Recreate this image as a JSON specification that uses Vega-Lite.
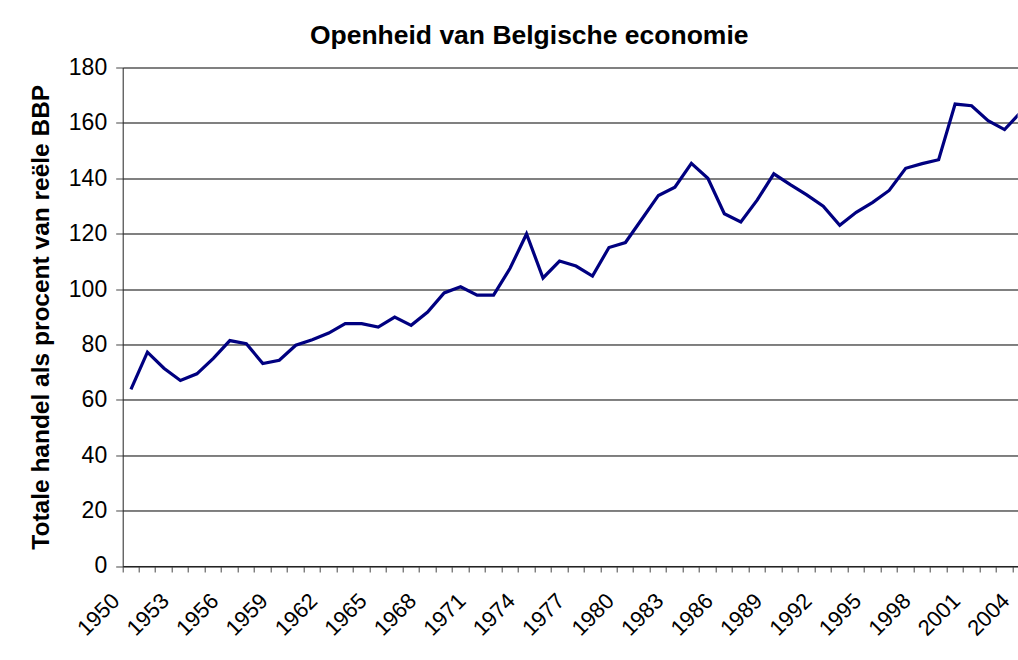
{
  "$schema": "https://vega.github.io/schema/vega-lite/v6.json",
  "width": 895,
  "height": 498.5,
  "autosize": {"type": "none"},
  "padding": {"left": 122.7, "top": 67.5, "right": 0, "bottom": 94},
  "background": "white",
  "title": {
    "text": "Openheid van Belgische economie",
    "font": "Liberation Sans",
    "fontSize": 26.5,
    "fontWeight": "bold",
    "color": "black",
    "anchor": "middle",
    "baseline": "alphabetic",
    "dx": -41,
    "offset": -14
  },
  "data": {
    "values": [
      {"year": 1950, "value": 63.8}, {"year": 1951, "value": 77.2}, {"year": 1952, "value": 71.4},
      {"year": 1953, "value": 67.0}, {"year": 1954, "value": 69.4}, {"year": 1955, "value": 75.0},
      {"year": 1956, "value": 81.4}, {"year": 1957, "value": 80.3}, {"year": 1958, "value": 73.1},
      {"year": 1959, "value": 74.3}, {"year": 1960, "value": 79.7}, {"year": 1961, "value": 81.7},
      {"year": 1962, "value": 84.1}, {"year": 1963, "value": 87.5}, {"year": 1964, "value": 87.5},
      {"year": 1965, "value": 86.3}, {"year": 1966, "value": 89.9}, {"year": 1967, "value": 86.9},
      {"year": 1968, "value": 91.7}, {"year": 1969, "value": 98.6}, {"year": 1970, "value": 100.8},
      {"year": 1971, "value": 97.8}, {"year": 1972, "value": 97.8}, {"year": 1973, "value": 107.5},
      {"year": 1974, "value": 119.9}, {"year": 1975, "value": 104.0}, {"year": 1976, "value": 110.1},
      {"year": 1977, "value": 108.3}, {"year": 1978, "value": 104.7}, {"year": 1979, "value": 115.0},
      {"year": 1980, "value": 116.8}, {"year": 1981, "value": 125.3}, {"year": 1982, "value": 133.8},
      {"year": 1983, "value": 136.8}, {"year": 1984, "value": 145.4}, {"year": 1985, "value": 140.0},
      {"year": 1986, "value": 127.2}, {"year": 1987, "value": 124.2}, {"year": 1988, "value": 132.2},
      {"year": 1989, "value": 141.6}, {"year": 1990, "value": 137.7}, {"year": 1991, "value": 134.0},
      {"year": 1992, "value": 129.9}, {"year": 1993, "value": 123.0}, {"year": 1994, "value": 127.7},
      {"year": 1995, "value": 131.3}, {"year": 1996, "value": 135.6}, {"year": 1997, "value": 143.6},
      {"year": 1998, "value": 145.3}, {"year": 1999, "value": 146.7}, {"year": 2000, "value": 166.8},
      {"year": 2001, "value": 166.2}, {"year": 2002, "value": 160.8}, {"year": 2003, "value": 157.6},
      {"year": 2004, "value": 164.0}
    ]
  },
  "mark": {"type": "line", "color": "#000080", "strokeWidth": 3.2, "clip": true},
  "encoding": {
    "x": {
      "field": "year",
      "type": "ordinal",
      "scale": {"type": "band", "range": [0, 906.6], "paddingInner": 0, "paddingOuter": 0},
      "axis": {
        "title": null,
        "bandPosition": 0,
        "labelAngle": -45,
        "labelAlign": "right",
        "labelBaseline": "middle",
        "labelExpr": "(+datum.value - 1950) % 3 === 0 ? datum.value : ''",
        "labelOverlap": false,
        "labelFont": "Liberation Sans",
        "labelFontSize": 22,
        "labelColor": "black",
        "labelPadding": 25,
        "labelOffset": -15,
        "tickSize": 6,
        "tickColor": "#444",
        "domainColor": "#222",
        "grid": false
      }
    },
    "y": {
      "field": "value",
      "type": "quantitative",
      "scale": {"domain": [0, 180], "nice": false},
      "axis": {
        "values": [0, 20, 40, 60, 80, 100, 120, 140, 160, 180],
        "title": "Totale handel als procent van reële BBP",
        "titleFont": "Liberation Sans",
        "titleFontSize": 24.5,
        "titleFontWeight": "bold",
        "titleColor": "black",
        "titlePadding": 15,
        "labelFont": "Liberation Sans",
        "labelFontSize": 23,
        "labelColor": "black",
        "labelPadding": 9,
        "labelFlush": false,
        "tickSize": 7,
        "tickColor": "#444",
        "domainColor": "#222",
        "grid": true,
        "gridColor": "#000"
      }
    }
  },
  "config": {"view": {"stroke": null}}
}
